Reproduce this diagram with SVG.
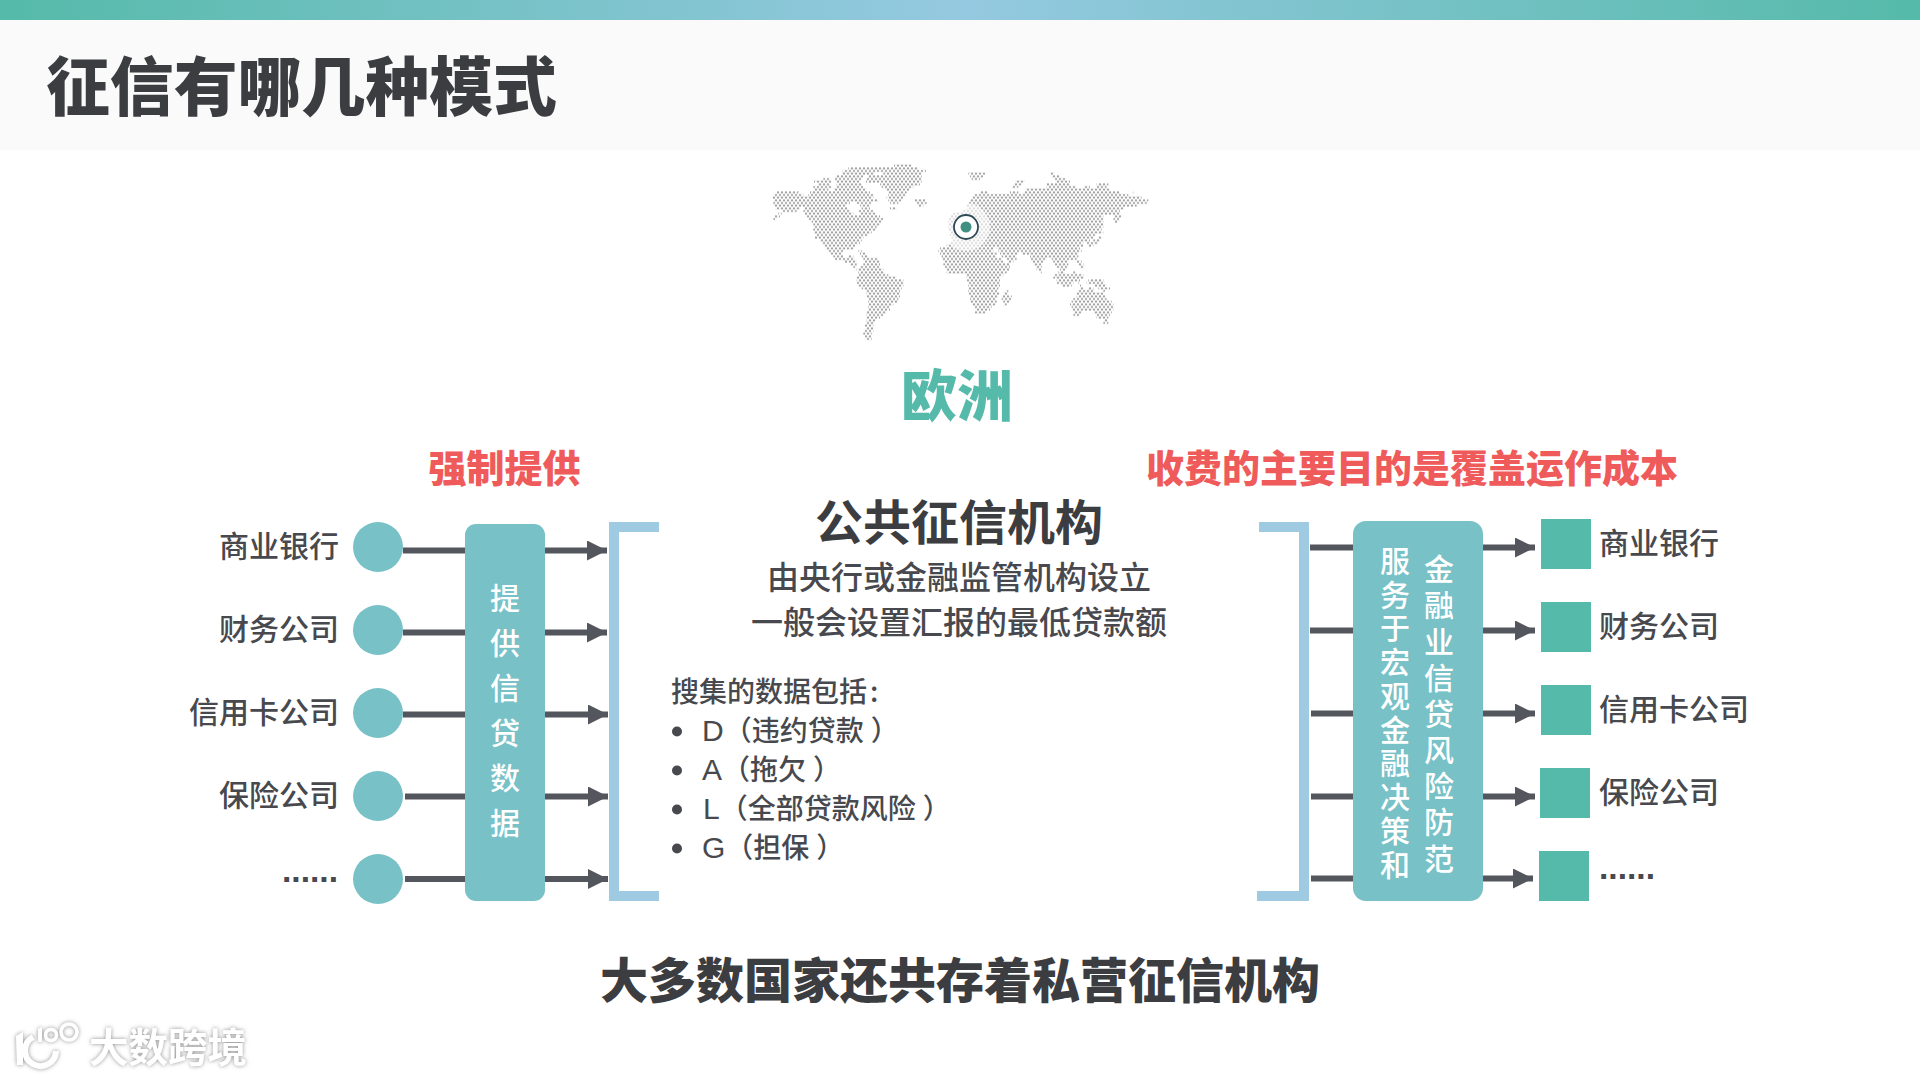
<svg xmlns="http://www.w3.org/2000/svg" width="1920" height="1080" viewBox="0 0 1920 1080">
<style>
text{font-family:"Noto Sans CJK SC","Noto Sans",sans-serif;fill:#47494e;font-weight:500}
.lab{font-size:30px}
.ctr{text-anchor:middle}
.end{text-anchor:end}
.red{font-size:38px;font-weight:900;fill:#ef5b5b;text-anchor:middle}
.hd{font-weight:900;fill:#3c3d41}
.vt{font-size:30px;fill:#fff;text-anchor:middle}
.li{font-size:28px}
.lat{font-family:"Liberation Sans",sans-serif;font-size:30px;font-weight:400}
.dd{font-family:"Liberation Sans",sans-serif;font-size:33.600px;font-weight:700}
.bar{fill:#77c1c7}
.c{fill:#77c1c7}
.s{fill:#55baa9}
.br{fill:none;stroke:#9fcbe2;stroke-width:10}
.cn{stroke:#53565c;stroke-width:6;fill:none}
.b{fill:#47494e}
</style>
<defs>
<linearGradient id="band"><stop offset="0" stop-color="#55baa9"/><stop offset=".5" stop-color="#95c9e1"/><stop offset="1" stop-color="#55baa9"/></linearGradient>
<pattern id="dots" patternUnits="userSpaceOnUse" x="0" y="43" width="12" height="16"><circle cx="6" cy="4" r="3.200" fill="#9c9c9c"/><circle cx="0" cy="12" r="3.200" fill="#9c9c9c"/><circle cx="12" cy="12" r="3.200" fill="#9c9c9c"/></pattern>
<marker id="ah" markerUnits="userSpaceOnUse" markerWidth="20" markerHeight="20" refX="20" refY="10" orient="auto"><path d="M0 0L20 10L0 20Z" fill="#53565c"/></marker>
<filter id="gl2" x="-20%" y="-40%" width="140%" height="180%"><feDropShadow dx="0" dy="0" stdDeviation="2.200" flood-color="#8f8f8f"/></filter>
</defs>
<rect width="1920" height="1080" fill="#fff"/>
<g id="header">
<rect y="20" width="1920" height="130" fill="#fafafa"/>
<rect width="1920" height="20" fill="url(#band)"/>
<text class="hd" x="46" y="110" font-size="64" textLength="511" lengthAdjust="spacingAndGlyphs">征信有哪几种模式</text>
</g>
<g id="world-map" transform="translate(740 150) scale(.33333)">
<path fill="none" stroke="url(#dots)" stroke-width="8" d="M462 47H515M325 55H535M308 63H558M305 71H405M430 71H545M285 79H370M385 79H545M250 87H270M285 87H365M380 87H545M222 95H275M285 95H360M378 95H545M235 103H270M290 103H365M420 103H540M220 111H275M285 111H370M425 111H520M222 119H265M280 119H380M435 119H510M110 127H175M210 127H390M445 127H500M100 135H190M205 135H400M445 135H500M97 143H400M440 143H490M100 151H415M445 151H485M525 151H555M100 159H330M350 159H395M450 159H475M530 159H560M100 167H320M360 167H390M535 167H550M105 175H180M195 175H325M365 175H390M450 175H470M125 183H170M190 183H330M355 183H400M115 191H125M195 191H340M360 191H405M105 199H120M200 199H420M100 207H110M205 207H430M215 215H425M220 223H420M220 231H410M220 239H410M220 247H395M225 255H385M225 263H370M240 271H365M245 279H360M250 287H345M255 295H340M262 303H310M355 303H365M270 311H305M360 311H375M280 319H310M325 319H340M365 319H385M285 327H345M370 327H415M310 335H350M375 335H420M330 343H350M370 343H420M340 351H350M360 351H420M350 359H430M355 367H435M355 375H445M350 383H470M350 391H490M350 399H490M355 407H490M365 415H485M375 423H480M380 431H480M380 439H480M385 447H475M385 455H475M385 463H460M385 471H450M385 479H450M380 487H440M380 495H430M380 503H420M380 511H405M375 519H405M375 527H400M375 535H400M370 543H400M370 551H395M375 559H395M380 567H395"/>
<path fill="none" stroke="url(#dots)" stroke-width="8" d="M685 71H735M930 71H945M690 79H730M935 79H960M695 87H720M945 87H975M825 95H855M950 95H990M820 103H845M920 103H990M1070 103H1105M815 111H835M920 111H1010M1030 111H1050M1070 111H1100M855 119H1110M720 127H745M810 127H835M850 127H1140M1175 127H1180M700 135H1165M695 143H1205M690 151H1225M685 159H1220M680 167H1190M680 175H1150M670 183H1140M640 191H1140M630 199H1090M1125 199H1145M625 207H1090M1120 207H1140M625 215H1090M1125 215H1135M625 223H1090M625 231H1090M625 239H1085M630 247H1090M630 255H1065M635 263H1060M1075 263H1085M640 271H1050M1060 271H1080M630 279H1030M1040 279H1075M620 287H1030M1045 287H1060M600 295H760M770 295H1020M595 303H760M775 303H1025M600 311H770M780 311H835M845 311H1015M605 319H770M785 319H830M870 319H1015M605 327H785M800 327H830M870 327H920M935 327H1010M610 335H790M805 335H820M875 335H910M940 335H985M1010 335H1025M610 343H810M880 343H905M945 343H985M1015 343H1030M615 351H810M885 351H905M950 351H985M1020 351H1035M620 359H810M890 359H905M960 359H980M620 367H800M900 367H905M955 367H975M1000 367H1010M680 375H790M945 375H1030M680 383H780M940 383H1030M680 391H780M950 391H1020M1045 391H1090M685 399H780M950 399H1000M1015 399H1020M1040 399H1095M685 407H780M965 407H995M1020 407H1025M1065 407H1100M685 415H775M1020 415H1030M1045 415H1060M1075 415H1110M685 423H775M795 423H805M1015 423H1065M1090 423H1095M685 431H780M790 431H805M1010 431H1090M690 439H775M785 439H815M1010 439H1095M690 447H770M785 447H815M1000 447H1100M690 455H770M790 455H810M995 455H1115M695 463H765M790 463H800M990 463H1120M700 471H755M995 471H1120M705 479H750M995 479H1120M705 487H735M1000 487H1025M1060 487H1115M1000 495H1020M1065 495H1110M1070 503H1105M1090 511H1105M1090 519H1105"/>
</g>
<g id="map-marker">
<circle cx="966" cy="227" r="24" fill="#fff" fill-opacity=".6"/>
<circle cx="966" cy="227" r="12" fill="#fff" stroke="#2f4a55" stroke-width="1.800"/>
<circle cx="966" cy="227" r="5.500" fill="#3f9080"/>
</g>
<g id="region-title"><text x="957" y="416" font-size="56" class="ctr" style="fill:#55baa9;font-weight:900">欧洲</text></g>
<g id="connectors">
<path class="cn" marker-end="url(#ah)" d="M403 550.500H607"/>
<path class="cn" marker-end="url(#ah)" d="M403 632.500H607"/>
<path class="cn" marker-end="url(#ah)" d="M403 714.500H608"/>
<path class="cn" marker-end="url(#ah)" d="M405 796.500H608"/>
<path class="cn" marker-end="url(#ah)" d="M405 879H608"/>
<path class="cn" marker-end="url(#ah)" d="M1310 547.500H1535"/>
<path class="cn" marker-end="url(#ah)" d="M1310 630.500H1535"/>
<path class="cn" marker-end="url(#ah)" d="M1311 713.500H1535"/>
<path class="cn" marker-end="url(#ah)" d="M1311 796.500H1535"/>
<path class="cn" marker-end="url(#ah)" d="M1311 878.500H1533"/>
</g>
<g id="caption-left"><text class="red" x="504.500" y="482">强制提供</text></g>
<g id="caption-right"><text class="red" x="1412" y="482">收费的主要目的是覆盖运作成本</text></g>
<g id="src-1"><circle class="c" cx="378" cy="547" r="25"/><text class="lab end" x="339" y="557">商业银行</text></g>
<g id="src-2"><circle class="c" cx="378" cy="630" r="25"/><text class="lab end" x="339" y="640">财务公司</text></g>
<g id="src-3"><circle class="c" cx="378" cy="713" r="25"/><text class="lab end" x="339" y="723">信用卡公司</text></g>
<g id="src-4"><circle class="c" cx="378" cy="796" r="25"/><text class="lab end" x="339" y="806">保险公司</text></g>
<g id="src-5"><circle class="c" cx="378" cy="879" r="25"/><text class="dd end" x="338" y="882">......</text></g>
<g id="provide-data"><rect class="bar" x="465" y="524" width="80" height="377" rx="11"/>
<text class="vt"><tspan x="505" y="609">提</tspan><tspan x="505" y="654">供</tspan><tspan x="505" y="699">信</tspan><tspan x="505" y="744">贷</tspan><tspan x="505" y="789">数</tspan><tspan x="505" y="834">据</tspan></text></g>
<g id="bracket-left"><path class="br" d="M659 527H614V896H659"/></g>
<g id="bracket-right"><path class="br" d="M1259 527H1304V896H1257"/></g>
<g id="center-text">
<text class="ctr" x="959" y="540" font-size="48" style="fill:#3c3d41;font-weight:700">公共征信机构</text>
<text class="ctr" x="959" y="589" font-size="32">由央行或金融监管机构设立</text>
<text class="ctr" x="959" y="634" font-size="32">一般会设置汇报的最低贷款额</text>
<text class="li" x="671" y="702">搜集的数据包括<tspan dx="3">:</tspan></text>
<circle class="b" cx="677" cy="731.500" r="5"/><text class="li" x="702" y="741"><tspan class="lat">D</tspan>（违约贷款<tspan dx="7">）</tspan></text>
<circle class="b" cx="677" cy="770.500" r="5"/><text class="li" x="702" y="780"><tspan class="lat">A</tspan>（拖欠<tspan dx="7">）</tspan></text>
<circle class="b" cx="677" cy="809.500" r="5"/><text class="li" x="703" y="819"><tspan class="lat">L</tspan>（全部贷款风险<tspan dx="7">）</tspan></text>
<circle class="b" cx="677" cy="848.500" r="5"/><text class="li" x="702" y="858"><tspan class="lat">G</tspan>（担保<tspan dx="7">）</tspan></text>
</g>
<g id="purpose"><rect class="bar" x="1353" y="521" width="130" height="380" rx="13"/>
<text class="vt"><tspan x="1395" y="572">服</tspan><tspan x="1395" y="606">务</tspan><tspan x="1395" y="639">于</tspan><tspan x="1395" y="673">宏</tspan><tspan x="1395" y="707">观</tspan><tspan x="1395" y="741">金</tspan><tspan x="1395" y="774">融</tspan><tspan x="1395" y="808">决</tspan><tspan x="1395" y="842">策</tspan><tspan x="1395" y="876">和</tspan></text>
<text class="vt"><tspan x="1439" y="580">金</tspan><tspan x="1439" y="616">融</tspan><tspan x="1439" y="653">业</tspan><tspan x="1439" y="689">信</tspan><tspan x="1439" y="725">贷</tspan><tspan x="1439" y="761">风</tspan><tspan x="1439" y="797">险</tspan><tspan x="1439" y="833">防</tspan><tspan x="1439" y="870">范</tspan></text></g>
<g id="dst-1"><rect class="s" x="1541" y="519" width="50" height="50"/><text class="lab" x="1599" y="554">商业银行</text></g>
<g id="dst-2"><rect class="s" x="1541" y="602" width="50" height="50"/><text class="lab" x="1599" y="637">财务公司</text></g>
<g id="dst-3"><rect class="s" x="1541" y="685" width="50" height="50"/><text class="lab" x="1599" y="720">信用卡公司</text></g>
<g id="dst-4"><rect class="s" x="1540" y="768" width="50" height="50"/><text class="lab" x="1599" y="803">保险公司</text></g>
<g id="dst-5"><rect class="s" x="1539" y="851" width="50" height="50"/><text class="dd" x="1599" y="879">......</text></g>
<g id="footer-text"><text class="ctr" x="960" y="998" font-size="48" style="fill:#3c3d41;font-weight:900">大多数国家还共存着私营征信机构</text></g>
<g id="watermark" filter="url(#gl2)">
<path d="M16 1036l7-4v33h-6z" fill="#fff"/>
<path d="M33 1037a15.500 15.500 0 1 0 23 14" fill="none" stroke="#fff" stroke-width="6"/>
<path d="M38 1029l4-2v15h-4z" fill="#fff"/>
<circle cx="51" cy="1035" r="5.500" fill="none" stroke="#fff" stroke-width="3.500"/>
<circle cx="69" cy="1032" r="8" fill="none" stroke="#fff" stroke-width="3.500"/>
<text x="89" y="1062" font-size="39.500" style="fill:#fff;font-weight:700">大数跨境</text>
</g>
</svg>
